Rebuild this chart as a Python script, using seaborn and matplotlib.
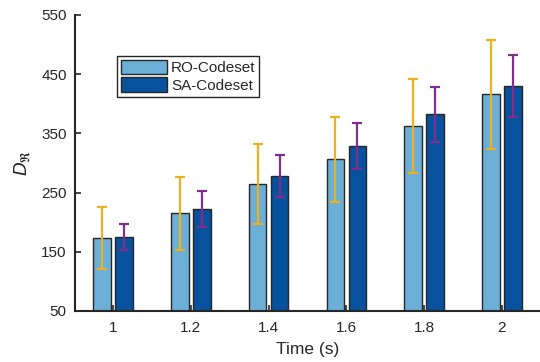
import pandas as pd
import matplotlib
matplotlib.use('Agg')
import matplotlib.pyplot as plt
import seaborn as sns

# 数据
times = ['1', '1.2', '1.4', '1.6', '1.8', '2']
ro_mean = [173, 215, 264, 306, 362, 416]
ro_err = [52, 62, 68, 72, 79, 92]
sa_mean = [175, 222, 278, 329, 382, 430]
sa_err = [22, 30, 35, 39, 47, 53]
series = ['RO-Codeset', 'SA-Codeset']

bar_colors = ['#6BAED6', '#08519C']
err_colors = ['#EDB120', '#7E2F8E']

sns.set_theme(style='ticks')
plt.rcParams['font.family'] = ['Liberation Sans', 'DejaVu Sans']

df = pd.DataFrame({
    'Time': times * 2,
    'Codeset': [series[0]] * len(times) + [series[1]] * len(times),
    'D': ro_mean + sa_mean,
})

fig = plt.figure(figsize=(5.4, 3.62), dpi=100)
ax = fig.add_axes([0.139, 0.141, 0.861, 0.818])

sns.barplot(data=df, x='Time', y='D', hue='Codeset', palette=bar_colors,
            order=times, hue_order=series, width=0.57, gap=0.21,
            saturation=1, edgecolor='#262626', linewidth=1.0,
            errorbar=None, ax=ax)

# 误差棒：按柱子的位置添加
errs = {series[0]: ro_err, series[1]: sa_err}
means = {series[0]: ro_mean, series[1]: sa_mean}
for cont, name, ec in zip(ax.containers, series, err_colors):
    xs = [p.get_x() + p.get_width() / 2 for p in cont.patches]
    ax.errorbar(xs, means[name], yerr=errs[name], fmt='none', ecolor=ec,
                elinewidth=1.6, capsize=3.6, capthick=1.6, zorder=5)

ax.set_ylim(50, 550)
ax.set_xlim(-0.49, 5.49)
ax.set_yticks([50, 150, 250, 350, 450, 550])
ax.tick_params(direction='in', length=4, width=1.2, labelsize=11, colors='#262626')
ax.tick_params(axis='x', pad=7)
ax.tick_params(axis='y', pad=6)
ax.set_xlabel('Time (s)', fontsize=12.5, labelpad=5)
ax.set_ylabel(r'$D_{\mathfrak{R}}$', fontsize=13, labelpad=6)
for s in ['left', 'bottom']:
    ax.spines[s].set_linewidth(1.5)
    ax.spines[s].set_color('#262626')
sns.despine(ax=ax)

leg = ax.legend(loc='upper left', bbox_to_anchor=(0.09, 0.862), fontsize=11,
                frameon=True, fancybox=False, framealpha=1, edgecolor='#262626',
                handlelength=3.0, handleheight=1.1, handletextpad=0.3,
                borderpad=0.25, labelspacing=0.15, borderaxespad=0)
leg.get_frame().set_linewidth(1.0)

fig.savefig('out.png', dpi=100)
